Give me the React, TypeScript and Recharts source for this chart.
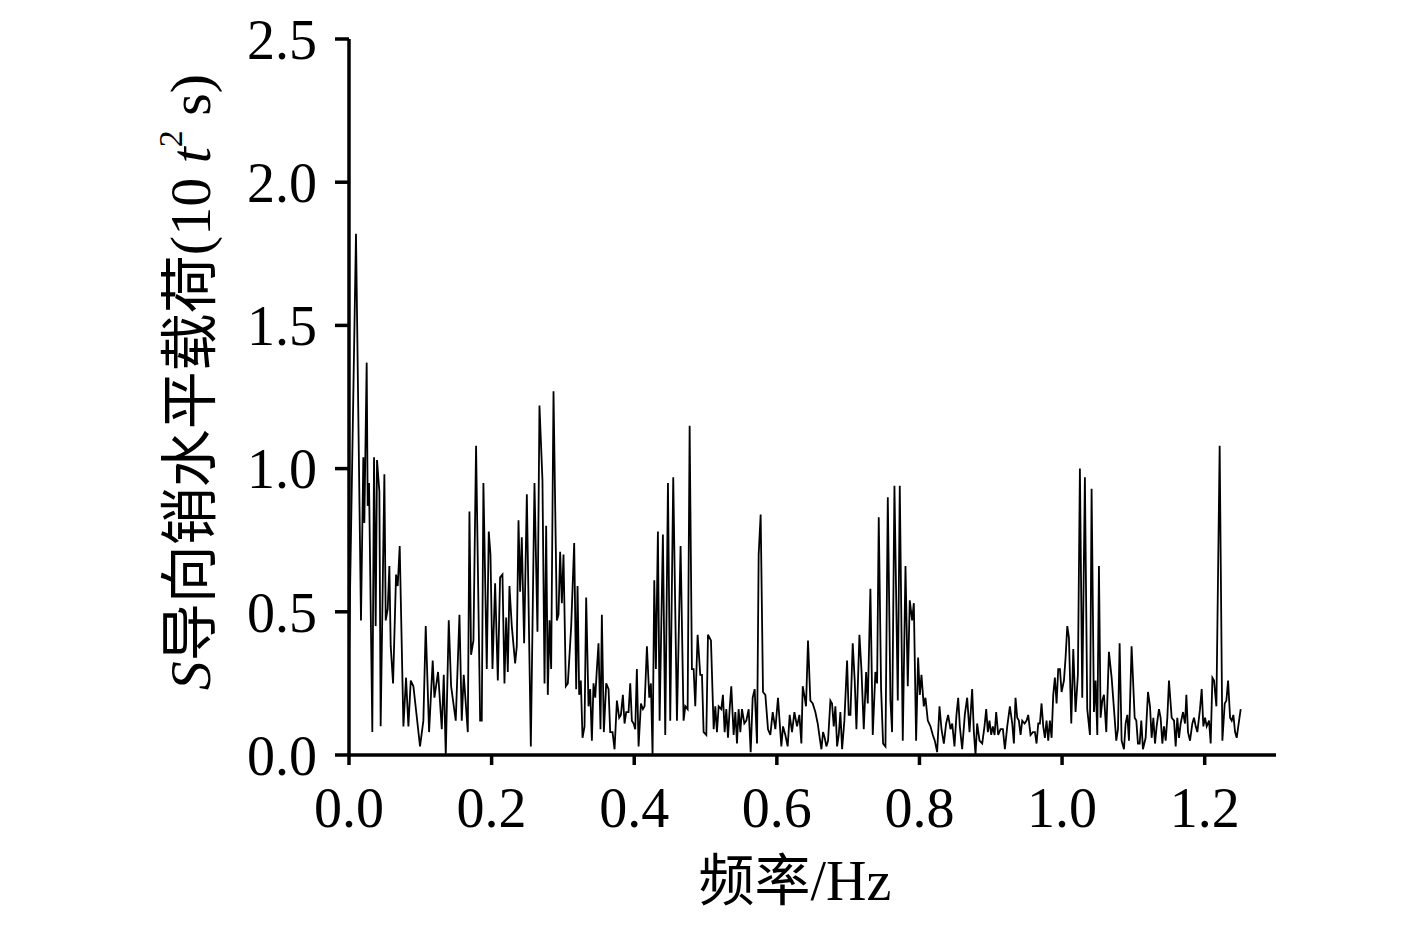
import React from 'react';
import { LineChart, Line, XAxis, YAxis } from 'recharts';

// frequency (Hz) of each vertex
const FREQ = [
  0, 0.0098, 0.0168, 0.0201, 0.0215, 0.0248, 0.0262, 0.0281, 0.0327, 0.0351,
  0.0374, 0.0393, 0.0426, 0.0444, 0.0496, 0.0515, 0.0543, 0.0566, 0.0585, 0.0618,
  0.066, 0.0683, 0.0711, 0.0763, 0.08, 0.0833, 0.0866, 0.0903, 0.0996, 0.1043,
  0.1076, 0.1123, 0.1174, 0.1198, 0.1249, 0.1301, 0.1329, 0.1357, 0.1399, 0.1432,
  0.1497, 0.1549, 0.1581, 0.1609, 0.1666, 0.1689, 0.1712, 0.1745, 0.1782, 0.1839,
  0.1862, 0.1885, 0.1932, 0.196, 0.1984, 0.2012, 0.2049,
  0.2087, 0.2119, 0.2152, 0.218, 0.2204, 0.2227, 0.225, 0.2283, 0.233, 0.2353,
  0.2377, 0.24, 0.2423, 0.2456, 0.2494, 0.255, 0.2601, 0.2643, 0.2671, 0.2713,
  0.2742, 0.2765, 0.2788, 0.2812, 0.2835, 0.2868, 0.2915, 0.2938, 0.2961, 0.2985,
  0.3008, 0.3041, 0.3069, 0.3116, 0.3158, 0.3186, 0.3205, 0.3228, 0.3251, 0.3275,
  0.3303, 0.3326, 0.3359, 0.3382, 0.3406, 0.3429, 0.3453, 0.3476, 0.3499, 0.3527,
  0.3546, 0.3574, 0.3607, 0.364, 0.3663, 0.3696, 0.3724, 0.3757, 0.3789, 0.3813,
  0.3841, 0.3864, 0.3888, 0.392, 0.3944, 0.3967, 0.3991, 0.4014, 0.4037, 0.4061,
  0.4094, 0.4122, 0.4145, 0.4178,
  0.4211, 0.4234, 0.4257, 0.4281, 0.4304, 0.4332, 0.4356, 0.4402, 0.4435, 0.4473,
  0.4505, 0.4547, 0.4599, 0.465, 0.4692, 0.4716, 0.4749, 0.4777, 0.4809, 0.4833,
  0.4856, 0.4889, 0.4926, 0.495, 0.4973, 0.5011, 0.5034, 0.5076, 0.5114, 0.5137,
  0.516, 0.5184, 0.5221, 0.5244, 0.5268, 0.5291, 0.5315, 0.5338, 0.5361, 0.5394,
  0.5418, 0.5441, 0.5464, 0.5488, 0.5511, 0.5544, 0.5572, 0.5605, 0.5633, 0.5661,
  0.5689, 0.5722, 0.5745, 0.5773, 0.5806, 0.5839, 0.5876, 0.5909, 0.5942, 0.5979,
  0.6016, 0.6063, 0.6087, 0.6119, 0.6152, 0.618, 0.6213, 0.6246, 0.6283, 0.6316,
  0.6344, 0.6363, 0.6391, 0.6409, 0.6437, 0.647, 0.6503, 0.654, 0.6573, 0.6601,
  0.6625, 0.6648, 0.6671, 0.6695, 0.6718, 0.6751, 0.6774, 0.6798, 0.6821, 0.6845,
  0.6868, 0.6891, 0.6915, 0.6947, 0.6985, 0.7008, 0.7032, 0.7064, 0.7092, 0.7116,
  0.7158, 0.7186, 0.7219, 0.7252, 0.7275, 0.7312, 0.7345, 0.7382, 0.7406, 0.7429,
  0.7462, 0.749, 0.7523, 0.7556, 0.7593, 0.7616, 0.7649, 0.7696, 0.7724, 0.7766,
  0.7804, 0.7836, 0.7864, 0.7897, 0.7921, 0.7953, 0.7981, 0.8005, 0.8028, 0.8061,
  0.8084, 0.8117, 0.8154, 0.8187, 0.8215, 0.8248, 0.8281, 0.8309, 0.8342, 0.8374,
  0.8402, 0.8435,
  0.8459, 0.8491, 0.8519, 0.8543, 0.8566, 0.8599, 0.8636, 0.8669, 0.8702, 0.8739,
  0.8763, 0.8786, 0.8809, 0.8842, 0.888, 0.8912, 0.8936, 0.8959, 0.8982, 0.9006,
  0.9029, 0.9053, 0.9076, 0.9104, 0.9137, 0.917, 0.9198, 0.9231, 0.9268, 0.9301,
  0.9324, 0.9347, 0.9371, 0.9394, 0.9418, 0.9441, 0.9474, 0.9502, 0.9525, 0.9558,
  0.9591, 0.9619, 0.9642, 0.9666, 0.9689, 0.9712, 0.9736, 0.9759, 0.9782, 0.9806,
  0.9829, 0.9853, 0.9876, 0.9899, 0.9923, 0.9946, 0.997, 0.9993, 1.0026, 1.0049,
  1.0073, 1.0096, 1.0129, 1.0157, 1.0189, 1.0222, 1.025, 1.0283, 1.032, 1.0353,
  1.0391, 1.0414, 1.0447, 1.047, 1.0494, 1.0517,
  1.054, 1.0564, 1.0587, 1.062, 1.0657, 1.0695, 1.0728, 1.076, 1.0784, 1.0807,
  1.0835, 1.0868, 1.0891, 1.0915, 1.0938, 1.0975, 1.1018, 1.1041, 1.1064, 1.1088,
  1.1111, 1.1134, 1.1172, 1.1205, 1.1233, 1.1256, 1.128, 1.1303, 1.1326, 1.1359,
  1.1382, 1.1406, 1.1429, 1.1453, 1.1476, 1.1499, 1.1537, 1.157, 1.1593, 1.1616,
  1.164, 1.1663, 1.1696, 1.1724, 1.1743, 1.1766, 1.1794, 1.1827, 1.185, 1.1874,
  1.1897, 1.1934, 1.1958, 1.1981, 1.2005, 1.2028, 1.2061, 1.2084, 1.2108, 1.2131,
  1.2164, 1.221, 1.2248, 1.2281, 1.2304, 1.2328, 1.2356, 1.2379, 1.2402, 1.2426,
  1.2449, 1.2482, 1.2505,
];

// horizontal load on the S guide pin at each vertex
const LOAD = [
  0.35, 1.82, 0.47, 1.04, 0.81, 1.37, 0.87, 0.95, 0.08, 1.04,
  0.45, 1.03, 0.92, 0.1, 0.98, 0.47, 0.51, 0.66, 0.38, 0.25,
  0.63, 0.59, 0.73, 0.1, 0.27, 0.1, 0.26, 0.24, 0.03, 0.12,
  0.45, 0.08, 0.33, 0.2, 0.29, 0.09, 0.28, 0.0, 0.47, 0.24,
  0.12, 0.49, 0.12, 0.28, 0.08, 0.85, 0.35, 0.4, 1.08, 0.12,
  0.12, 0.95, 0.3, 0.78, 0.7, 0.3, 0.6,
  0.26, 0.62, 0.63, 0.25, 0.48, 0.29, 0.59, 0.45, 0.32, 0.38,
  0.82, 0.57, 0.76, 0.39, 0.91, 0.03, 0.95, 0.43, 1.22, 0.96,
  0.25, 0.8, 0.21, 0.47, 0.3, 1.27, 0.47, 0.49, 0.71, 0.53,
  0.7, 0.24, 0.25, 0.45, 0.74, 0.23, 0.59, 0.21, 0.26, 0.06,
  0.1, 0.55, 0.17, 0.23, 0.05, 0.25, 0.2, 0.3, 0.39, 0.09,
  0.49, 0.08, 0.25, 0.23, 0.08, 0.08, 0.02, 0.19, 0.13, 0.14,
  0.21, 0.11, 0.15, 0.15, 0.25, 0.12, 0.11, 0.09, 0.3, 0.03,
  0.18, 0.16, 0.17, 0.38,
  0.2, 0.25, 0.0, 0.61, 0.3, 0.78, 0.12, 0.77, 0.07, 0.95,
  0.12, 0.97, 0.12, 0.73, 0.12, 0.17, 0.16, 1.15, 0.3, 0.3,
  0.17, 0.42, 0.28, 0.28, 0.08, 0.07, 0.42, 0.4, 0.09, 0.17,
  0.08, 0.17, 0.16, 0.21, 0.08, 0.16, 0.06, 0.16, 0.24, 0.07,
  0.15, 0.04, 0.16, 0.08, 0.16, 0.11, 0.12, 0.16, 0.01, 0.2,
  0.23, 0.04, 0.7, 0.84, 0.22, 0.21, 0.09, 0.07, 0.15, 0.09,
  0.2, 0.03, 0.1, 0.07, 0.03, 0.14, 0.08, 0.15, 0.1, 0.14,
  0.04, 0.24, 0.2, 0.17, 0.4, 0.19, 0.18, 0.15, 0.11, 0.06,
  0.02, 0.08, 0.06, 0.03, 0.05, 0.19, 0.18, 0.1, 0.17, 0.03,
  0.07, 0.15, 0.02, 0.12, 0.33, 0.14, 0.14, 0.39, 0.26, 0.09,
  0.42, 0.3, 0.09, 0.29, 0.18, 0.58, 0.07, 0.29, 0.25, 0.83,
  0.23, 0.04, 0.03, 0.9, 0.19, 0.08, 0.94, 0.19, 0.94, 0.05,
  0.66, 0.24, 0.54, 0.47, 0.53, 0.05, 0.34, 0.21, 0.28, 0.17,
  0.2, 0.12, 0.1, 0.07, 0.05, 0.01, 0.17, 0.09, 0.04, 0.11,
  0.14, 0.09,
  0.11, 0.03, 0.14, 0.2, 0.1, 0.02, 0.14, 0.2, 0.08, 0.23,
  0.08, 0.0, 0.11, 0.05, 0.04, 0.1, 0.16, 0.08, 0.12, 0.07,
  0.1, 0.07, 0.15, 0.07, 0.09, 0.09, 0.02, 0.1, 0.17, 0.11,
  0.04, 0.2, 0.13, 0.12, 0.07, 0.12, 0.11, 0.12, 0.14, 0.07,
  0.08, 0.08, 0.04, 0.11, 0.11, 0.18, 0.1, 0.06, 0.12, 0.05,
  0.12, 0.06, 0.21, 0.27, 0.18, 0.3, 0.3, 0.22, 0.26, 0.34,
  0.45, 0.41, 0.11, 0.37, 0.15, 0.28, 1.0, 0.2, 0.97, 0.16,
  0.07, 0.93, 0.15, 0.26, 0.07, 0.66,
  0.13, 0.19, 0.21, 0.08, 0.36, 0.27, 0.16, 0.05, 0.09, 0.39,
  0.05, 0.02, 0.11, 0.14, 0.05, 0.38, 0.13, 0.12, 0.04, 0.04,
  0.12, 0.02, 0.06, 0.22, 0.17, 0.06, 0.13, 0.04, 0.1, 0.16,
  0.13, 0.04, 0.1, 0.05, 0.13, 0.26, 0.13, 0.12, 0.03, 0.13,
  0.06, 0.11, 0.15, 0.11, 0.21, 0.08, 0.05, 0.11, 0.13, 0.1,
  0.08, 0.16, 0.23, 0.1, 0.13, 0.1, 0.12, 0.04, 0.27, 0.26,
  0.17, 1.08, 0.05, 0.18, 0.19, 0.26, 0.13, 0.12, 0.14, 0.08,
  0.06, 0.12, 0.16,
];

const X_TICKS = [0, 0.2, 0.4, 0.6, 0.8, 1.0, 1.2];
const Y_TICKS = [0, 0.5, 1.0, 1.5, 2.0, 2.5];

const data = FREQ.map((f, i) => ({ f, load: LOAD[i] }));

const FONT = '"Liberation Serif", "Times New Roman", "Noto Sans CJK SC", serif';
const FS = 56;

const renderYTitle = () => (
  <text
    x={182}
    y={374}
    transform="rotate(-90, 182, 374)"
    textAnchor="middle"
    dominantBaseline="central"
    fontFamily={FONT}
    fontSize={58}
    fill="#000"
  >
    <tspan fontStyle="italic">S</tspan>
    <tspan>导向销水平载荷(10 </tspan>
    <tspan fontStyle="italic">t</tspan>
    <tspan fontSize={34} dy={-20}>2</tspan>
    <tspan dy={20}> s)</tspan>
  </text>
);

const renderXTitle = () => (
  <text x={787} y={892} textAnchor="middle" fontFamily={FONT} fontSize={FS} fill="#000">
    频率/Hz
  </text>
);

export default function App() {
  return (
    <div style={{ width: 1400, height: 915 }}>
      <LineChart
        width={1400}
        height={915}
        data={data}
        margin={{ top: 31, right: 132, bottom: 88, left: 221 }}
      >
        <XAxis
          dataKey="f"
          type="number"
          domain={[0, 1.3]}
          ticks={X_TICKS}
          interval={0}
          tickFormatter={(v: number) => v.toFixed(1)}
          height={80}
          tickSize={10}
          tickMargin={22}
          axisLine={{ stroke: '#000', strokeWidth: 3.5 }}
          tickLine={{ stroke: '#000', strokeWidth: 3.5 }}
          tick={{ fill: '#000', fontSize: FS, fontFamily: FONT }}
          label={{ content: renderXTitle }}
        />
        <YAxis
          type="number"
          domain={[0, 2.5]}
          ticks={Y_TICKS}
          interval={0}
          tickFormatter={(v: number) => v.toFixed(1)}
          width={120}
          tickSize={14}
          tickMargin={18}
          axisLine={{ stroke: '#000', strokeWidth: 3.5 }}
          tickLine={{ stroke: '#000', strokeWidth: 3.5 }}
          tick={{ fill: '#000', fontSize: FS, fontFamily: FONT }}
          label={{ content: renderYTitle }}
        />
        <Line
          type="linear"
          dataKey="load"
          stroke="#000"
          strokeWidth={1.8}
          dot={false}
          isAnimationActive={false}
        />
      </LineChart>
    </div>
  );
}
